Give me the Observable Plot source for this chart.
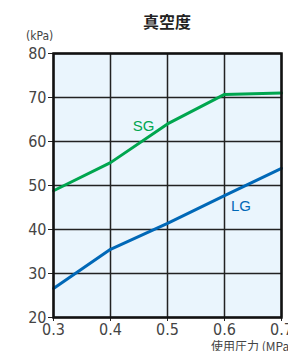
<!DOCTYPE html>
<html><head><meta charset="utf-8">
<script src="https://cdn.jsdelivr.net/npm/d3@7"></script>
<script src="https://cdn.jsdelivr.net/npm/@observablehq/plot@0.6"></script>
<style>
body{margin:0;background:#fff;overflow:hidden;}
#wrap{position:relative;width:288px;height:351px;font-family:"Liberation Sans Narrow","DejaVu Sans Condensed","Liberation Sans",sans-serif;}
#title{position:absolute;left:0;top:9px;width:334px;text-align:center;font:bold 16px "Noto Sans CJK JP",sans-serif;color:#222;}
#unit{position:absolute;left:26px;top:29px;font-size:12px;color:#444;}
#xlab{position:absolute;left:211px;top:337px;font-size:12px;color:#444;white-space:nowrap;font-family:"Noto Sans CJK JP",sans-serif;}
#chart{position:absolute;left:0;top:30px;}
</style></head>
<body>
<div id="wrap">
<div id="title">真空度</div>
<div id="unit">(kPa)</div>
<div id="chart"></div>
<div id="xlab">使用圧力 (MPa)</div>
</div>
<script>
const pressure = [0.3, 0.4, 0.5, 0.6, 0.7];
const sgValues = [48.8, 55.2, 64.0, 70.7, 71.0];
const lgValues = [26.6, 35.5, 41.4, 47.7, 53.9];
const xTicks = [0.3, 0.4, 0.5, 0.6, 0.7];
const yTicks = [20, 30, 40, 50, 60, 70, 80];
const seriesNames = ["SG", "LG"];
const seriesColors = ["#00a64f", "#0068b7"];
const labelX = [0.458, 0.629];
const labelY = [63.4, 45.2];

const sg = pressure.map((p, i) => ({p, v: sgValues[i], s: "SG"}));
const lg = pressure.map((p, i) => ({p, v: lgValues[i], s: "LG"}));
const labels = seriesNames.map((s, i) => ({s, x: labelX[i], y: labelY[i]}));

const chart = Plot.plot({
  width: 288,
  height: 321,
  marginTop: 23,
  marginBottom: 34,
  marginLeft: 53,
  marginRight: 7,
  style: {fontFamily: '"Liberation Sans Narrow","DejaVu Sans Condensed",sans-serif', fontSize: "16px", color: "#444", background: "transparent", overflow: "visible"},
  x: {domain: [0.3, 0.7], ticks: xTicks, tickFormat: d3.format(".1f")},
  y: {domain: [20, 80], ticks: yTicks},
  color: {domain: seriesNames, range: seriesColors},
  marks: [
    Plot.frame({fill: "#eaf5fd", stroke: null}),
    Plot.gridX(xTicks, {stroke: "#222", strokeOpacity: 1, strokeWidth: 1.5}),
    Plot.gridY(yTicks, {stroke: "#222", strokeOpacity: 1, strokeWidth: 1.5}),
    Plot.axisX(xTicks, {label: null, tickSize: 4, tickPadding: 2, tickFormat: d3.format(".1f"), fontSize: 16, stroke: "#222"}),
    Plot.axisY(yTicks, {label: null, tickSize: 5, tickPadding: 2, fontSize: 16, stroke: "#222"}),
    Plot.line(sg, {x: "p", y: "v", stroke: "s", strokeWidth: 3}),
    Plot.line(lg, {x: "p", y: "v", stroke: "s", strokeWidth: 3}),
    Plot.text(labels, {x: "x", y: "y", text: "s", fill: "s", fontSize: 15, fontFamily: '"Liberation Sans",sans-serif'}),
    Plot.frame({stroke: "#111", strokeWidth: 2.5})
  ]
});
document.getElementById("chart").appendChild(chart);
</script>
</body></html>
